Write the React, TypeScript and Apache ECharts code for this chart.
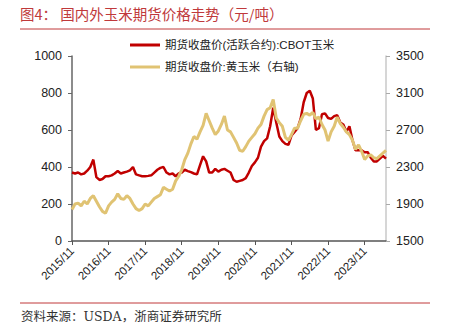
import React, { useEffect, useRef } from "react";
import * as echarts from "echarts";

const months: string[] = (() => {
  const out: string[] = [];
  let y = 2015, m = 11;
  while (y < 2024 || (y === 2024 && m <= 6)) {
    out.push(`${y}/${m}`);
    m++;
    if (m > 12) { m = 1; y++; }
  }
  return out;
})();

// CBOT corn active contract close (left axis)
const cbot: number[] = [
  370, 365, 370, 360, 365, 380, 400, 440, 345, 330, 335, 350,
  350, 355, 365, 378, 365, 370, 375, 382, 400, 360, 355, 350,
  350, 352, 355, 370, 385, 395, 400, 370, 360, 365, 350, 365,
  370, 385, 378, 372, 365, 360, 410, 458, 430, 370, 370, 390,
  375, 385, 390, 380, 370, 330, 320, 325, 330, 340, 370, 405,
  425, 450, 510, 540, 555, 620, 720, 640, 565, 540, 525, 520,
  570, 590, 610, 660, 750, 800, 812, 770, 600, 610, 685, 690,
  665, 660, 675, 680, 640, 630, 590, 620, 545, 490, 490, 490,
  480, 480, 450, 430, 430, 445, 460, 445,
];

// Yellow corn futures close (right axis)
const yellowCorn: number[] = [
  1840, 1900, 1910, 1880, 1930, 1900, 1960, 1990, 1930, 1870, 1820, 1800,
  1880, 1920, 1950, 2010, 1960, 1950, 1990, 1960, 1900, 1850, 1830, 1850,
  1900, 1880, 1920, 1960, 1980, 2000, 2080, 2060, 2040, 2060, 2150, 2200,
  2270, 2380, 2450, 2550, 2630, 2600, 2680, 2750, 2880, 2800, 2720, 2650,
  2690, 2760, 2850, 2700, 2680, 2620, 2560, 2480, 2470, 2520, 2580, 2620,
  2660, 2720, 2760, 2850, 2920, 2940, 3030, 2830, 2780, 2740, 2620, 2590,
  2650, 2720, 2720, 2800, 2870, 2880, 2860, 2890, 2820, 2840, 2760, 2700,
  2580, 2680, 2740, 2840, 2770, 2730, 2680, 2650, 2590, 2490, 2540, 2470,
  2380, 2420, 2430, 2400, 2390, 2420, 2450, 2480,
];

const leftTicks = { min: 0, max: 1000, interval: 200 };
const rightTicks = { min: 1500, max: 3500, interval: 400 };

const seriesNames = ["期货收盘价(活跃合约):CBOT玉米", "期货收盘价:黄玉米（右轴)"];
const titleText = "图4： 国内外玉米期货价格走势（元/吨）";
const sourceText = "资料来源：USDA，浙商证券研究所";

const RED = "#C00000";
const GOLD = "#E0C373";
const TITLE_RED = "#C0393B";

export default function App() {
  const ref = useRef<HTMLDivElement>(null);
  useEffect(() => {
    document.body.style.margin = "0";
    if (!ref.current) return;
    const chart = echarts.init(ref.current, undefined, { renderer: "svg" });
    const sans = "'Liberation Sans', Arial, 'Noto Sans CJK SC', sans-serif";
    const plain = (v: number) => String(v);
    chart.setOption({
      animation: false,
      backgroundColor: "#ffffff",
      grid: { left: 72, right: 63, top: 56, bottom: 89, containLabel: false },
      legend: {
        orient: "vertical",
        left: 130,
        top: 38,
        padding: 0,
        itemWidth: 30,
        itemHeight: 3,
        itemGap: 8,
        icon: "rect",
        textStyle: { fontSize: 11.5, color: "#222", fontFamily: sans, lineHeight: 14 },
        data: seriesNames,
      },
      xAxis: {
        type: "category",
        data: months,
        boundaryGap: false,
        axisLine: { lineStyle: { color: "#555", width: 1.5 } },
        axisTick: {
          interval: (i: number) => i % 12 === 0,
          length: 4,
          lineStyle: { color: "#555" },
        },
        axisLabel: {
          interval: (i: number) => i % 12 === 0,
          rotate: 45,
          margin: 8,
          fontSize: 11.5,
          color: "#222",
          fontFamily: sans,
          formatter: (v: string) => {
            const [y, m] = v.split("/");
            return `${y}/${m.padStart(2, "0")}`;
          },
        },
        splitLine: { show: false },
      },
      yAxis: [
        {
          type: "value",
          ...leftTicks,
          position: "left",
          axisLine: { show: true, lineStyle: { color: "#666", width: 1.5 } },
          axisTick: { show: true, length: 4, lineStyle: { color: "#666" } },
          axisLabel: { fontSize: 12.5, color: "#222", margin: 10, fontFamily: sans, formatter: plain },
          splitLine: { show: false },
        },
        {
          type: "value",
          ...rightTicks,
          position: "right",
          axisLine: { show: true, lineStyle: { color: "#c8c8c8", width: 1.5 } },
          axisTick: { show: true, length: 4, lineStyle: { color: "#aaa" } },
          axisLabel: { fontSize: 12.5, color: "#222", margin: 10, fontFamily: sans, formatter: plain },
          splitLine: { show: false },
        },
      ],
      series: [
        {
          name: seriesNames[0],
          type: "line",
          yAxisIndex: 0,
          data: cbot,
          showSymbol: false,
          symbol: "none",
          lineStyle: { color: RED, width: 2.5 },
          itemStyle: { color: RED },
          z: 2,
        },
        {
          name: seriesNames[1],
          type: "line",
          yAxisIndex: 1,
          data: yellowCorn,
          showSymbol: false,
          symbol: "none",
          lineStyle: { color: GOLD, width: 3 },
          itemStyle: { color: GOLD },
          z: 3,
        },
      ],
      graphic: [
        {
          type: "text",
          left: 20,
          top: 6,
          style: {
            text: titleText,
            fontSize: 14.5,
            fill: TITLE_RED,
            fontFamily: "'Noto Sans CJK SC', sans-serif",
          },
        },
        {
          type: "line",
          shape: { x1: 20, y1: 29, x2: 430, y2: 29 },
          style: { stroke: TITLE_RED, lineWidth: 1 },
        },
        {
          type: "line",
          shape: { x1: 20, y1: 303, x2: 430, y2: 303 },
          style: { stroke: TITLE_RED, lineWidth: 1 },
        },
        {
          type: "text",
          left: 21,
          top: 310,
          style: {
            text: sourceText,
            fontSize: 12.5,
            fill: "#333",
            fontFamily: "'DejaVu Serif', 'Noto Sans CJK SC', serif",
          },
        },
      ],
    });
    return () => chart.dispose();
  }, []);
  return <div ref={ref} style={{ width: 449, height: 330 }} />;
}
